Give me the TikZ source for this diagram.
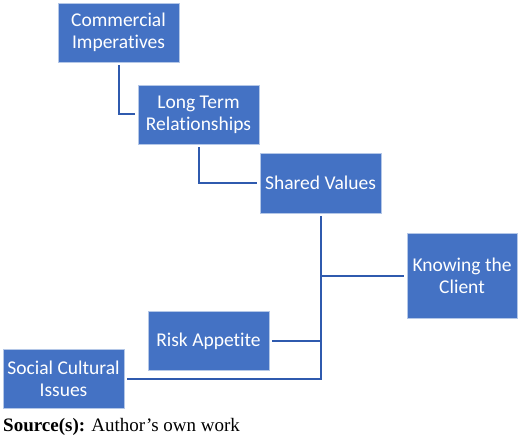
\documentclass[tikz,border=0pt]{standalone}
\usepackage{fontspec}
\setmainfont{Liberation Serif}
\newfontfamily\boxfont[Ligatures=CommonOff]{Carlito}
\definecolor{boxblue}{HTML}{4472C4}
\definecolor{linkblue}{HTML}{2F5AAE}
\tikzset{
  factor/.style={rectangle, fill=boxblue, draw=boxblue!40!white, line width=0.6pt,
    text=white, align=center, minimum width=121pt, minimum height=59pt,
    inner sep=0pt, font=\boxfont\fontsize{19.5}{22}\selectfont},
  link/.style={draw=linkblue, line width=2pt, shorten <=3pt, shorten >=3pt}
}
\begin{document}
\begin{tikzpicture}[x=1pt,y=-1pt]
\useasboundingbox (0,0) rectangle (520,436);
\node[factor] (ci) at (118.5,32.5){Commercial\\Imperatives};
\node[factor] (ltr) at (198.5,114.5){Long Term\\Relationships};
\node[factor, minimum height=60pt] (sv) at (320.5,183){Shared Values};
\node[factor, minimum width=110pt, minimum height=85pt] (kc) at (462,275.5){Knowing the\\Client};
\node[factor] (ra) at (208.5,341){Risk Appetite};
\node[factor] (sci) at (63.5,378.5){Social Cultural\\Issues};
\coordinate (kcjoin) at (sv.south |- kc.west);
\coordinate (rajoin) at (sv.south |- ra.east);
\draw[link](ci) |- (ltr);
\draw[link](ltr) |- (sv);
\draw[link](sv) |- (sci);
\draw[link, shorten <=0pt](kcjoin) -- (kc);
\draw[link, shorten >=0pt](ra) -- (rajoin);
\node[anchor=base west, inner sep=0pt, font=\fontsize{19}{21}\selectfont] (src) at (3,431){\textbf{Source(s):} Author’s own work};
\end{tikzpicture}
\end{document}
